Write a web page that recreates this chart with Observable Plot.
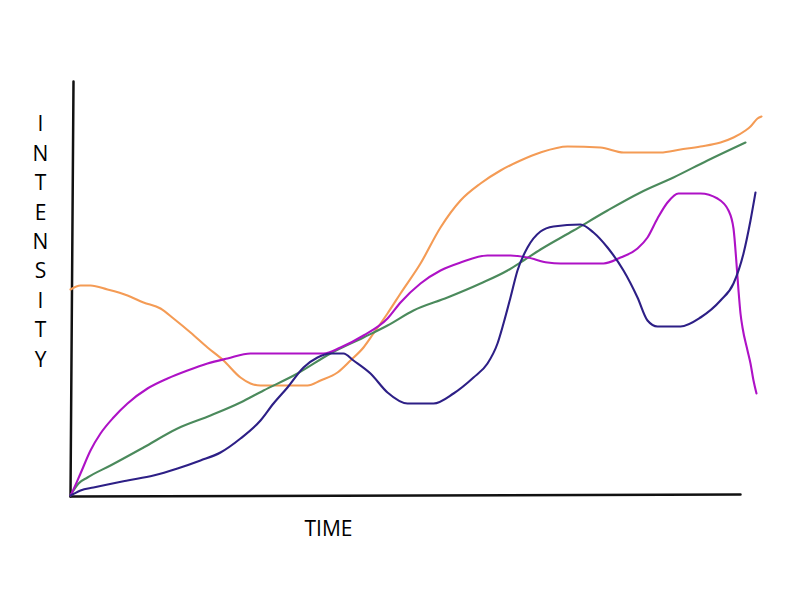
<!DOCTYPE html>
<html>
<head>
<meta charset="utf-8">
<script src="https://cdn.jsdelivr.net/npm/d3@7"></script>
<script src="https://cdn.jsdelivr.net/npm/@observablehq/plot@0.6"></script>
<style>
  html, body { margin: 0; padding: 0; background: #fff; }
  #chart { width: 800px; height: 600px; }
</style>
</head>
<body>
<div id="chart"></div>
<script>
// Sketch data: time (arbitrary units) vs intensity (arbitrary units)
const orangeT = [0,10,20,37,57,73,90,103,120,137,153,170,180,190,237,250,267,280,293,303,317,330,350,370,390,410,430,450,470,497,530,553,590,610,630,650,663,675,680,687,691];
const orangeI = [206,210,210,206,200,193,187,177,163,148,135,118,112,110,110,115,123,135,148,162,182,202,232,268,295,312,325,335,343,349,348,343,343,346,349,353,358,365,369,377,379];

const greenT = [0,3,8,17,40,73,107,140,170,193,227,260,293,317,343,377,410,437,453,470,503,537,570,603,637,675];
const greenI = [0,5,12,18,30,48,67,80,93,105,122,142,158,170,185,198,212,225,235,246,265,285,303,318,335,353];

const purpleT = [0,2,10,20,30,43,57,77,97,117,137,157,180,253,270,293,317,330,350,370,390,417,440,457,477,490,533,550,567,577,587,597,608,630,647,658,663,666,668,670,672,677,680,683,686];
const purpleI = [0,4,22,45,62,78,92,107,117,125,132,137,142,142,148,160,177,193,212,225,233,240,240,238,233,232,232,238,247,258,277,293,302,302,297,285,267,232,205,182,168,145,132,115,102];

const blueT = [0,2,10,23,57,83,107,130,150,170,190,203,217,233,247,260,273,283,300,317,337,363,383,403,417,427,433,440,447,457,470,483,510,523,537,553,567,577,587,610,630,650,663,673,680,685];
const blueI = [0,1,5,8,15,20,27,35,43,57,75,92,108,128,138,142,142,135,122,103,92,92,102,118,132,152,172,198,225,248,264,269,271,263,248,225,198,175,169,169,178,195,212,242,275,303];

const yLabel = "INTENSITY";
const xLabel = "TIME";

// Hand-drawn axis strokes
const axisXLine = [{t: 0, i: -1}, {t: 670, i: 1}];
const axisYLine = [{t: 0, i: -1}, {t: 3, i: 414}];

const series = [
  {name: "orange", color: "#F49B55", T: orangeT, I: orangeI},
  {name: "green",  color: "#4B8A5C", T: greenT,  I: greenI},
  {name: "purple", color: "#AE12C6", T: purpleT, I: purpleI},
  {name: "blue",   color: "#2D1F86", T: blueT,   I: blueI}
];
const rows = series.flatMap(s => s.T.map((t, k) => ({series: s.name, color: s.color, t, i: s.I[k]})));

const font = "'Open Sans', 'Liberation Sans', sans-serif";

const plot = Plot.plot({
  width: 800,
  height: 600,
  margin: 0,
  style: {background: "#fff", fontFamily: font},
  x: {domain: [0, 670], range: [70, 740], axis: null},
  y: {domain: [0, 415], range: [495, 80], axis: null},
  marks: [
    Plot.line(axisYLine, {x: "t", y: "i", stroke: "#111", strokeWidth: 2.5}),
    Plot.line(axisXLine, {x: "t", y: "i", stroke: "#111", strokeWidth: 2.5}),
    ...series.map(s => Plot.line(rows.filter(r => r.series === s.name), {
      x: "t", y: "i", stroke: s.color, strokeWidth: 2.1, curve: "monotone-x", strokeLinejoin: "round", strokeLinecap: "round"
    })),
    Plot.text([yLabel.split("").join("\n")], {
      frameAnchor: "top-left", dx: 40, dy: 239, textAnchor: "middle", lineAnchor: "middle",
      lineHeight: 1.40, fontSize: 21, fill: "#000", fontFamily: font
    }),
    Plot.text([xLabel], {
      frameAnchor: "top-left", dx: 328, dy: 529, textAnchor: "middle", lineAnchor: "middle",
      fontSize: 21, fill: "#000", fontFamily: font
    })
  ]
});
document.getElementById("chart").appendChild(plot);
</script>
</body>
</html>
